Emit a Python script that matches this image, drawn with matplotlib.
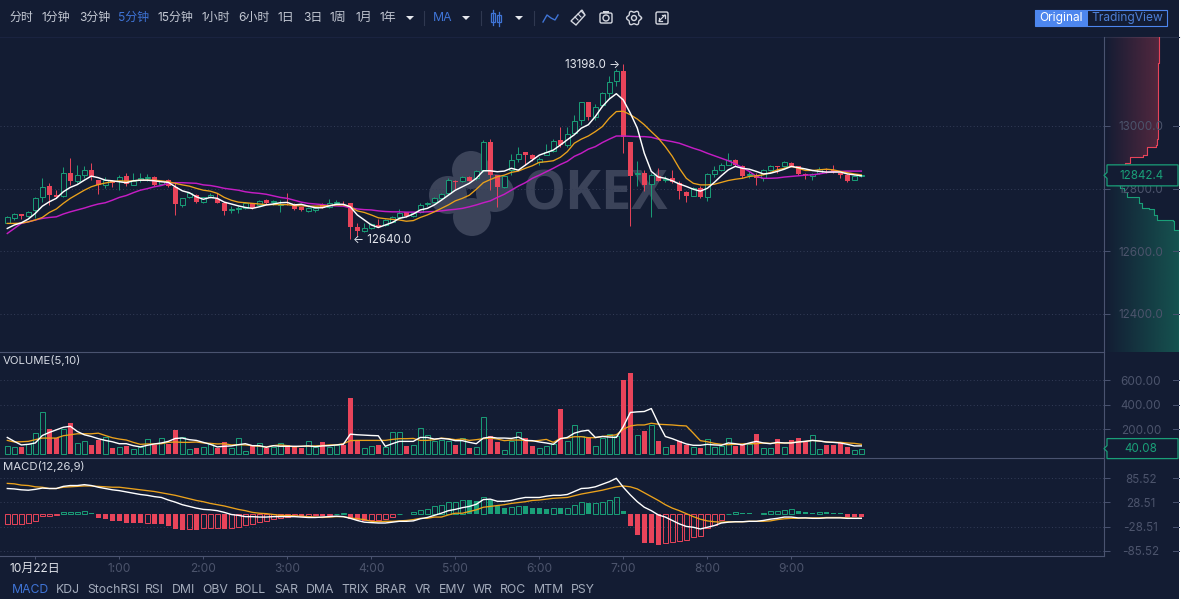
import numpy as np
import matplotlib
matplotlib.use('Agg')
import matplotlib.pyplot as plt
from matplotlib.patches import Circle, Polygon, Rectangle, FancyBboxPatch

plt.rcParams['font.family'] = ['Inter', 'Noto Sans CJK SC', 'DejaVu Sans']

opens = [12691,12707,12719,12712,12732,12772,12808,12779,12776,12849,
         12824,12845,12859,12829,12811,12825,12825,12840,12813,12829,
         12833,12838,12815,12827,12806,12748,12772,12779,12758,12772,
         12766,12753,12732,12734,12737,12753,12748,12763,12757,12748,
         12755,12751,12740,12729,12732,12748,12742,12753,12755,12753,
         12676,12666,12675,12684,12684,12694,12710,12725,12712,12726,
         12750,12756,12769,12785,12825,12825,12838,12833,12859,12950,
         12843,12804,12861,12896,12918,12907,12886,12907,12920,12954,
         12940,12979,13020,13075,13030,13067,13105,13142,13176,12949,
         12847,12851,12814,12841,12826,12833,12817,12789,12778,12801,
         12772,12847,12860,12876,12890,12873,12843,12844,12833,12858,
         12871,12871,12883,12871,12847,12839,12849,12862,12860,12849,
         12844,12828,12840]
highs = [12712,12721,12719,12729,12774,12833,12817,12795,12868,12899,
         12875,12872,12883,12829,12838,12829,12843,12851,12851,12849,
         12846,12840,12829,12830,12817,12769,12788,12782,12774,12785,
         12785,12758,12744,12744,12758,12755,12763,12768,12763,12763,
         12787,12755,12742,12742,12742,12755,12766,12763,12760,12755,
         12689,12689,12690,12702,12702,12714,12734,12727,12727,12753,
         12757,12772,12785,12833,12829,12840,12840,12861,12955,12960,
         12845,12840,12910,12934,12918,12909,12902,12944,12960,12998,
         12998,13036,13078,13078,13070,13110,13158,13181,13198,12949,
         12887,12858,12851,12865,12839,12858,12823,12794,12804,12807,
         12851,12871,12883,12913,12894,12876,12855,12849,12862,12874,
         12873,12889,12886,12873,12849,12849,12868,12865,12876,12851,
         12847,12843,12847]
lows = [12689,12700,12702,12710,12705,12758,12748,12769,12774,12811,
        12817,12833,12829,12783,12801,12806,12795,12808,12811,12822,
        12825,12809,12811,12805,12716,12742,12769,12753,12755,12769,
        12753,12716,12721,12723,12735,12735,12746,12751,12748,12726,
        12748,12733,12730,12726,12726,12737,12737,12748,12744,12640,
        12649,12662,12672,12676,12682,12692,12708,12710,12710,12723,
        12745,12754,12767,12779,12798,12822,12823,12829,12854,12795,
        12740,12801,12843,12886,12875,12889,12875,12907,12918,12934,
        12934,12977,13004,13020,13020,13062,13089,13128,12915,12681,
        12807,12791,12711,12823,12820,12817,12767,12756,12775,12770,
        12759,12837,12855,12874,12871,12833,12833,12812,12823,12855,
        12851,12869,12869,12845,12830,12826,12847,12849,12851,12833,
        12822,12826,12838]
closes = [12708,12718,12712,12727,12769,12806,12779,12774,12849,12824,
          12845,12859,12836,12813,12829,12819,12838,12815,12825,12833,
          12836,12811,12825,12808,12751,12769,12785,12758,12772,12779,
          12753,12728,12734,12737,12755,12737,12760,12753,12760,12751,
          12753,12735,12732,12737,12737,12739,12753,12756,12753,12676,
          12666,12673,12686,12676,12699,12710,12723,12712,12723,12748,
          12753,12769,12783,12827,12822,12838,12825,12857,12950,12845,
          12806,12840,12891,12910,12907,12896,12896,12918,12952,12940,
          12975,13016,13075,13030,13062,13105,13140,13177,12966,12839,
          12849,12812,12844,12823,12830,12821,12791,12777,12801,12772,
          12847,12858,12874,12892,12876,12839,12847,12833,12858,12871,
          12869,12884,12871,12847,12845,12847,12862,12860,12855,12845,
          12825,12841,12842.4]

ma5 = [12673,12684,12691,12703,12721,12744,12758,12769,12790,12804,
       12813,12827,12840,12835,12827,12825,12822,12819,12825,12827,
       12827,12825,12822,12820,12806,12793,12787,12774,12766,12772,
       12769,12757,12751,12745,12740,12737,12742,12748,12751,12755,
       12756,12748,12750,12744,12739,12739,12745,12750,12750,12742,
       12716,12700,12684,12676,12684,12692,12705,12710,12719,12732,
       12737,12748,12763,12779,12795,12806,12817,12833,12857,12857,
       12854,12856,12865,12859,12875,12891,12907,12915,12923,12939,
       12956,12972,12993,13004,13030,13062,13086,13103,13083,13041,
       12993,12913,12855,12837,12833,12825,12815,12807,12798,12792,
       12801,12820,12841,12860,12871,12865,12862,12855,12847,12849,
       12855,12862,12871,12867,12863,12858,12855,12853,12853,12853,
       12847,12844,12841]
ma10 = [12689,12689,12690,12694,12700,12708,12724,12735,12753,12769,
        12782,12795,12806,12813,12818,12822,12825,12824,12825,12827,
        12827,12827,12825,12822,12817,12812,12808,12801,12795,12792,
        12785,12772,12763,12757,12755,12753,12751,12749,12749,12749,
        12749,12746,12745,12744,12744,12745,12746,12748,12748,12742,
        12729,12724,12716,12707,12704,12702,12700,12696,12698,12708,
        12716,12726,12737,12748,12761,12769,12779,12798,12819,12829,
        12838,12843,12852,12856,12865,12873,12884,12886,12889,12900,
        12918,12945,12958,12968,12982,12998,13025,13046,13047,13036,
        13022,13004,12982,12961,12934,12903,12865,12833,12817,12812,
        12812,12814,12820,12826,12830,12833,12839,12841,12844,12851,
        12860,12865,12871,12865,12858,12858,12860,12862,12860,12855,
        12851,12847,12844]
ma30 = [12657,12673,12689,12694,12700,12705,12708,12710,12719,12726,
        12732,12738,12745,12751,12755,12763,12772,12778,12787,12795,
        12800,12806,12810,12817,12819,12819,12818,12817,12812,12810,
        12806,12801,12798,12795,12790,12787,12785,12782,12777,12772,
        12769,12763,12757,12753,12751,12749,12746,12745,12744,12739,
        12735,12733,12732,12729,12727,12726,12726,12725,12725,12725,
        12726,12727,12729,12732,12734,12737,12742,12748,12755,12761,
        12772,12782,12795,12808,12819,12833,12843,12854,12865,12877,
        12887,12903,12913,12926,12934,12947,12958,12968,12968,12967,
        12966,12966,12964,12958,12954,12950,12945,12937,12929,12922,
        12913,12905,12897,12889,12879,12867,12855,12839,12833,12833,
        12834,12837,12839,12841,12843,12844,12847,12851,12854,12855,
        12856,12856,12856]

volume = [64,54,54,80,166,335,200,126,198,246,
          86,102,70,107,131,48,54,59,38,54,
          118,72,126,80,193,131,40,48,54,75,
          48,91,46,126,21,59,86,43,54,86,
          72,64,43,102,54,96,54,70,72,453,
          99,43,59,72,54,174,174,64,72,206,
          153,99,107,105,70,126,46,54,295,139,
          96,32,99,174,126,64,46,64,80,362,
          99,233,139,126,59,126,158,139,603,659,
          153,180,233,105,54,72,99,72,54,48,
          118,54,64,126,59,72,80,161,43,48,
          121,54,107,129,91,150,40,72,72,86,
          54,32,40.08]
vol_ma5 = [131,99,70,75,86,147,172,193,214,222,
           180,153,139,121,107,96,80,80,64,54,
           67,78,86,99,123,126,113,107,91,75,
           54,59,62,72,80,64,64,51,64,59,
           59,59,59,62,56,62,64,70,75,158,
           153,150,147,145,59,80,99,99,99,131,
           131,118,123,118,105,105,91,80,126,134,
           126,126,123,134,107,105,94,86,75,121,
           131,166,182,190,131,139,134,131,220,335,
           340,343,367,247,139,121,99,78,67,67,
           75,70,67,86,80,70,86,99,86,80,
           91,86,86,94,99,107,102,94,91,86,
           75,62,62]
vol_ma10 = [107,94,96,99,113,126,126,126,145,153,
            161,161,161,166,147,129,118,110,91,75,
            78,78,80,91,94,91,91,94,86,83,
            78,80,70,72,70,64,59,54,64,70,
            64,54,59,59,62,64,70,70,80,105,
            107,107,107,107,107,115,121,121,123,107,
            107,113,126,121,113,118,107,113,121,126,
            118,105,110,110,107,102,107,115,91,123,
            126,137,137,129,129,139,145,153,198,225,
            233,233,247,239,236,233,228,225,166,105,
            96,83,75,72,75,78,80,80,86,83,
            86,86,88,94,99,107,102,94,91,91,
            86,83,75]

macd_hist = [-22,-21.8,-21.5,-20,-16,-3,-2.8,-2,5,6,
             7,8,3,-9,-11,-15,-16,-19,-19,-19.5,
             -19,-22,-23,-26,-33,-36,-35,-36,-32,-31.5,
             -31,-33,-31,-30,-24,-22,-17,-16,-11,-9,
             -5,-3,-3.5,-2.5,-2,-3,-2,1.5,3,-11,
             -14,-14.5,-12.5,-12,-11,-6,2,1.5,5,11,
             14,19,23,29,30,34,33,32.5,40,34,
             20,16,17,20,19.5,15.5,15,13,15,14.5,
             15,22,29,27,28,29,34,40,9,-28,
             -47,-67,-67.5,-71,-67,-65,-63,-59,-53,-51,
             -32,-24,-12,1,6,3,2.8,2.3,4.5,8,
             9,11,12.5,8.5,5.5,3,6,4.7,3,2.8,
             -6,-6,-6.2]
macd_dif = [61,60,58,57,59,62,61,61,66,68,
            68,70,68,64,61,58,56,53,50,47,
            45,42,40,34,29,23,19,15,12,11,
            9,5,0,-2,-5,-5,-6,-6,-5,-5,
            -5,-5,-6,-7,-7,-6,-5,-4,-5,-9,
            -14,-18,-19,-20,-20,-18,-16,-16,-15,-10,
            -7,-2,3,9,12,16,19,24,35,36,
            31,31,33,37,40,40,40,43,45,45,
            47,54,61,62,65,71,77,85,64,46,
            30,17,9,-1,-6,-14,-22,-28,-30,-34,
            -30,-26,-20,-18,-17,-17,-16,-16,-14,-11,
            -9,-6,-6,-8,-8,-9,-9,-8,-8,-8,
            -9,-9,-9]
macd_dea = [73,72,69,68,65,64,61,61,64,65,
            66,67,67,66,65,64,64,62,60,58,
            56,54,51,48,45,41,37,33,30,26,
            23,20,16,12,9,5,3,2,0,-2,
            -2,-3,-4,-5,-6,-7,-6,-5,-5,-8,
            -10,-12,-16,-17,-16,-16,-15,-14,-12,-9,
            -9,-6,-6,-1,3,3,7,11,17,19,
            21,23,26,28,30,33,34,36,38,39,
            40,44,48,51,54,57,61,65,67,65,
            60,51,42,33,23,15,9,2,-5,-11,
            -15,-17,-18,-17,-17,-17,-16,-16,-16,-15,
            -12,-10,-9,-9,-8,-8,-8,-7,-7,-7,
            -8,-9,-9]

ask_price = [12842.4,12860,12870,12882,12901,12907,12933,12939,12960,12978,13200,13284]
ask_depth = [0,4,12,21,26,39,43,52,53,54,54,55]
bid_price = [12842.4,12832,12822,12812,12802,12788,12774,12774,12755,12738,12735,12715,12700,12698,12668,12665,12279]
bid_depth = [0,4,8,12,16,20,23,32,35,38,45,50,53,69,69.5,75,75]

price_ticks = [13000, 12800, 12600, 12400]
vol_ticks = [600, 400, 200]
macd_ticks = [85.52, 28.51, -28.51, -85.52]
time_ticks = [4, 16, 28, 40, 52, 64, 76, 88, 100, 112]
time_labels = ['10月22日', '1:00', '2:00', '3:00', '4:00', '5:00', '6:00', '7:00', '8:00', '9:00']
menu_labels = ['分时', '1分钟', '3分钟', '5分钟', '15分钟', '1小时', '6小时', '1日', '3日', '1周', '1月', '1年']
menu_x = [10, 42, 79, 118, 158, 201, 238, 277, 303, 330, 355, 379]
indicator_labels = ['MACD', 'KDJ', 'StochRSI', 'RSI', 'DMI', 'OBV', 'BOLL', 'SAR', 'DMA', 'TRIX',
                    'BRAR', 'VR', 'EMV', 'WR', 'ROC', 'MTM', 'PSY']
indicator_x = [12, 56, 87, 145, 172, 202, 235, 274, 306, 341, 375, 415, 439, 473, 500, 534, 571]

BG = '#131c33'
RED = '#e8445a'
GREEN = '#1a9f78'
BLUE = '#3f74d6'
AXIS = '#4a5370'
DIM = '#4c546c'
TEXT = '#c3c8d3'
GRID = '#343d58'
W, H = 1182, 599

fig = plt.figure(figsize=(W / 100, H / 100), dpi=100, facecolor='white')


def px_axes(left, top, right, bottom, z):
    a = fig.add_axes([left / W, 1 - bottom / H, (right - left) / W, (bottom - top) / H], zorder=z)
    a.patch.set_visible(False)
    return a


back = px_axes(0, 0, W, H, 0)
back.set_xlim(0, W)
back.set_ylim(H, 0)
back.axis('off')
back.add_patch(Rectangle((0, 0), 1179, 599, fc=BG, ec='none'))
depth = px_axes(1104, 37, 1179, 352, 1)
ax = px_axes(0, 37, 1104, 352, 2)
ax_vol = px_axes(0, 352, 1104, 458, 2)
ax_macd = px_axes(0, 458, 1104, 556, 2)
top = px_axes(0, 0, W, H, 3)
top.set_xlim(0, W)
top.set_ylim(H, 0)
top.axis('off')

x = np.arange(len(closes))
up = np.array(closes) >= np.array(opens)
colors = [GREEN if u else RED for u in up]
BAR_W = 0.68

# candles
ax.vlines(x, lows, highs, colors=colors, lw=0.7, zorder=2)
body_low = np.minimum(opens, closes)
body_h = np.maximum(np.abs(np.array(closes) - np.array(opens)), 2)
ax.bar(x[up], body_h[up], BAR_W, body_low[up], facecolor=BG, edgecolor=GREEN, lw=0.7, zorder=2.5)
ax.bar(x[~up], body_h[~up], BAR_W, body_low[~up], color=RED, lw=0, zorder=2.5)
ax.plot(x, ma30, color='#c41cc4', lw=1.05, zorder=3)
ax.plot(x, ma10, color='#eba21c', lw=0.95, zorder=3.1)
ax.plot(x, ma5, color='white', lw=1.05, zorder=3.2)
ax.set_ylim(12278.6, 13284)

hi = int(np.argmax(highs))
lo = int(np.argmin(lows))
ax.annotate(f'{highs[hi]:.1f} →', (hi, highs[hi]), xytext=(-2, -1), textcoords='offset points',
            ha='right', va='center', color='#e4e7ee', fontsize=8.3, zorder=5)
ax.annotate(f'← {lows[lo]:.1f}', (lo, lows[lo]), xytext=(2, -1), textcoords='offset points',
            ha='left', va='center', color='#e4e7ee', fontsize=8.3, zorder=5)

# volume
vol = np.array(volume)
ax_vol.bar(x[up], vol[up], BAR_W, facecolor='none', edgecolor=GREEN, lw=0.7, zorder=2)
ax_vol.bar(x[~up], vol[~up], BAR_W, color=RED, lw=0, zorder=2)
ax_vol.plot(x, vol_ma10, color='#eba21c', lw=0.95, zorder=3)
ax_vol.plot(x, vol_ma5, color='white', lw=1.0, zorder=3.1)
ax_vol.set_ylim(-36.7, 828.6)

# macd
hist = np.array(macd_hist, dtype=float)
hollow = np.r_[True, hist[1:] > hist[:-1]]
hist_col = np.where(hist >= 0, GREEN, RED)
for i in x:
    if hollow[i]:
        ax_macd.bar(i, hist[i], BAR_W, facecolor='none', edgecolor=hist_col[i], lw=0.7, zorder=2)
    else:
        ax_macd.bar(i, hist[i], BAR_W, color=hist_col[i], lw=0, zorder=2)
ax_macd.plot(x, macd_dea, color='#eba21c', lw=0.95, zorder=3)
ax_macd.plot(x, macd_dif, color='white', lw=1.0, zorder=3.1)
ax_macd.set_ylim(-97.4, 132.6)

# panels share the same look
for a, ticks, fmt in ((ax, price_ticks, '{:.1f}'), (ax_vol, vol_ticks, '{:.2f}'), (ax_macd, macd_ticks, '{:.2f}')):
    a.set_xlim(-1.043, 156.67)
    a.set_yticks(ticks)
    a.set_yticklabels([fmt.format(t) for t in ticks])
    a.yaxis.tick_right()
    a.tick_params(axis='y', length=4.3, width=0.7, color=AXIS, labelcolor=DIM, labelsize=8.4, pad=22.3)
    for lab in a.get_yticklabels():
        lab.set_horizontalalignment('center')
    a.grid(axis='y', color=GRID, lw=0.7, ls=(0, (1, 2.5)))
    a.set_axisbelow(True)
    for s in ('left', 'top'):
        a.spines[s].set_visible(False)
    for s in ('right', 'bottom'):
        a.spines[s].set_color(AXIS)
        a.spines[s].set_linewidth(0.8)
    for t in ticks:
        a.plot([1173 / 1104, 1179 / 1104], [t, t], transform=a.get_yaxis_transform(), color=AXIS,
               lw=0.7, clip_on=False)
    if a is not ax_macd:
        a.set_xticks([])

ax_macd.set_xticks(time_ticks)
ax_macd.set_xticklabels(time_labels)
ax_macd.tick_params(axis='x', length=2.5, width=0.7, color=AXIS, labelcolor=DIM, labelsize=8.6, pad=2.5)
ax_macd.get_xticklabels()[0].set_color('#dfe2e9')

# depth on the right
depth.set_xlim(0, 75)
depth.axis('off')
for prices, amounts, col, top_alpha, full in ((ask_price, ask_depth, RED, 0.3, 55), (bid_price, bid_depth, GREEN, 0.42, 75)):
    stairs = [(amounts[0], prices[0])]
    for k in range(1, len(prices)):
        stairs.append((amounts[k], prices[k - 1]))
        stairs.append((amounts[k], prices[k]))
    shape = Polygon(stairs + [(0, prices[-1])], closed=True, fc='none', ec='none', transform=depth.transData)
    depth.add_patch(shape)
    rgba = np.zeros((1, 256, 4))
    rgba[..., :3] = matplotlib.colors.to_rgb(col)
    rgba[..., 3] = np.linspace(0, top_alpha, 256)
    im = depth.imshow(rgba, extent=(0, full, 12279, 13284), aspect='auto', origin='lower')
    im.set_clip_path(shape)
    depth.plot(*zip(*stairs), color=col, lw=0.8)
depth.set_xlim(0, 75)
depth.set_ylim(12278.6, 13284)

# watermark
for cx, cy in ((448, 195), (495, 193), (471, 170), (472, 217)):
    back.add_patch(Circle((cx, cy), 19, fc='#3b4359', ec='none'))
back.text(523, 196, 'OKEX', color='#3b4359', fontsize=39, fontweight='bold', family='Open Sans',
          ha='left', va='center')

# toolbar
for lab, px in zip(menu_labels, menu_x):
    top.text(px, 18, lab, color=BLUE if lab == '5分钟' else TEXT, fontsize=8.6, va='center', ha='left')
top.text(433, 18, 'MA', color=BLUE, fontsize=8.8, va='center', ha='left')
for px in (410, 466, 519):
    top.add_patch(Polygon([(px - 4, 16), (px + 4, 16), (px, 20)], fc='#e6e8ee', ec='none'))
for px in (424, 481, 534):
    top.plot([px, px], [11, 25], color='#2f3850', lw=0.8)

top.plot([493, 493], [10, 25], color=BLUE, lw=0.9)
top.add_patch(Rectangle((491, 13), 4, 9, fc=BG, ec=BLUE, lw=0.9))
top.plot([499, 499], [12, 26], color=BLUE, lw=0.9)
top.add_patch(Rectangle((497, 15), 4, 7, fc=BG, ec=BLUE, lw=0.9))
top.plot([543, 547, 551, 555, 558], [22, 15, 18, 20, 15], color=BLUE, lw=1)
top.add_patch(Polygon([(571, 21), (582, 10), (585, 15), (576, 25)], fc='none', ec='#d4d7df', lw=1))
for k in (0, 1, 2):
    top.plot([575 + 3 * k, 578 + 3 * k], [17 - 3 * k, 20 - 3 * k], color='#d4d7df', lw=0.8)
top.add_patch(FancyBboxPatch((600, 13), 12, 10, boxstyle='round,pad=0,rounding_size=1.5', fc='none', ec='#d4d7df', lw=1))
top.add_patch(Circle((606, 18), 3, fc='none', ec='#d4d7df', lw=1))
top.add_patch(Rectangle((603, 11), 6, 2, fc='#d4d7df', ec='none'))
gear_angle = np.linspace(0, 2 * np.pi, 49)
gear_r = 6.6 + 0.9 * np.cos(6 * gear_angle)
top.plot(634 + gear_r * np.cos(gear_angle), 18 + gear_r * np.sin(gear_angle), color='#d4d7df', lw=1)
top.add_patch(Circle((634, 18), 2.5, fc='none', ec='#d4d7df', lw=1))
top.add_patch(FancyBboxPatch((656, 12), 12, 12, boxstyle='round,pad=0,rounding_size=1.5', fc='none', ec='#d4d7df', lw=1))
top.plot([659, 665], [21, 15], color='#d4d7df', lw=0.9)
top.plot([662, 665, 665], [15, 15, 18], color='#d4d7df', lw=0.9)
top.plot([659, 659, 662], [18, 21, 21], color='#d4d7df', lw=0.9)

top.add_patch(Rectangle((1034.5, 9.5), 132, 16.5, fc='none', ec='#4d86ee', lw=0.8))
top.add_patch(Rectangle((1034.5, 9.5), 53, 16.5, fc='#4d86ee', ec='none'))
top.text(1060.5, 18, 'Original', color='white', fontsize=8.6, ha='center', va='center')
top.text(1127, 18, 'TradingView', color='#4d7fd6', fontsize=8.6, ha='center', va='center')

# top rule of the price scale
back.plot([1104, 1179], [36.5, 36.5], color='#262f49', lw=0.8)
back.plot([0, 1104], [36.5, 36.5], color='#1a2340', lw=0.8)

# panel captions and bottom tabs
top.text(3, 360, 'VOLUME(5,10)', color='#d5d9e2', fontsize=8.2, va='center', ha='left')
top.text(3, 467, 'MACD(12,26,9)', color='#d5d9e2', fontsize=8.2, va='center', ha='left')
for lab, px in zip(indicator_labels, indicator_x):
    top.text(px, 590, lab, color=BLUE if lab == 'MACD' else '#a3abbb', fontsize=8.8, va='center', ha='left')


# latest value boxes, placed from the panel scales
def value_box(a, value, label):
    fig.canvas.draw()
    py = H - a.transData.transform((0, value))[1]
    half = 10 if a is ax_vol else 10.5
    pts = [(1107, py - half), (1178, py - half), (1178, py + half), (1107, py + half),
           (1107, py + 3), (1104, py), (1107, py - 3)]
    top.add_patch(Polygon(pts, closed=True, fc=BG, ec=GREEN, lw=0.9))
    top.text(1141, py + 0.5, label, color=GREEN, fontsize=8.4, ha='center', va='center')


value_box(ax, closes[-1], f'{closes[-1]:.1f}')
value_box(ax_vol, volume[-1], f'{volume[-1]:.2f}')

fig.savefig('out.png', dpi=100, facecolor='white')
